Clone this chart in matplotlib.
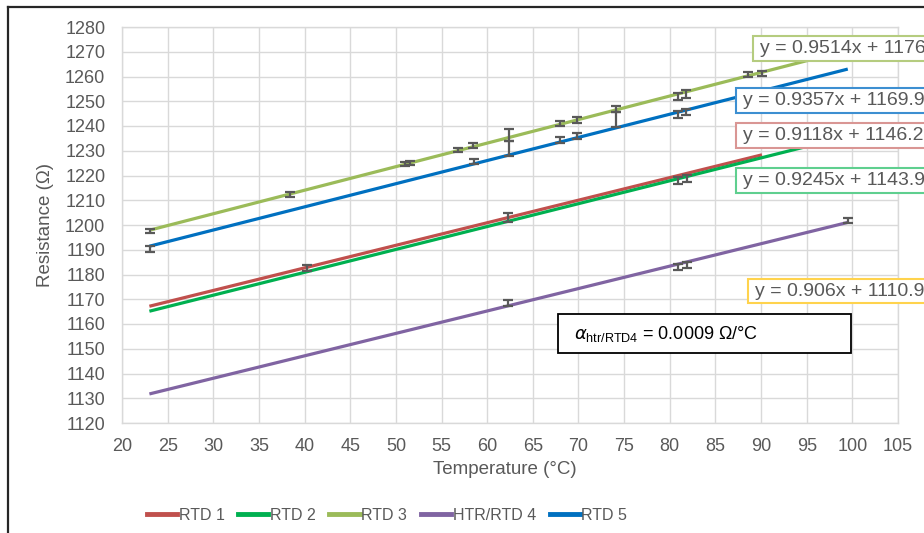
import matplotlib
matplotlib.use("Agg")
import matplotlib.pyplot as plt
from matplotlib.patches import Rectangle
from matplotlib.lines import Line2D

plt.rcParams['font.family'] = ['Liberation Sans', 'DejaVu Sans']

# ---- data ----
series_names = ["RTD 1", "RTD 2", "RTD 3", "HTR/RTD 4", "RTD 5"]
series_colors = ["#C0504D", "#00B050", "#9BBB59", "#8064A2", "#0070C0"]
slopes = [0.9118, 0.9245, 0.9514, 0.906, 0.9357]
intercepts = [1146.2, 1143.9, 1176.0, 1110.9, 1169.9]
x_start = [23, 23, 23, 23, 23]
x_end = [90.1, 99.5, 99.5, 99.5, 99.5]
eq_labels = ["y = 0.9118x + 1146.2", "y = 0.9245x + 1143.9", "y = 0.9514x + 1176",
             "y = 0.906x + 1110.9", "y = 0.9357x + 1169.9"]

# error-bar measurements (temperature, mean resistance, half-range)
rtd1_t = [40.3, 62.3]
rtd1_r = [1182.6, 1203.2]
rtd1_e = [1.3, 1.8]
rtd2_t = [80.9, 81.9]
rtd2_r = [1218.0, 1218.7]
rtd2_e = [1.5, 1.5]
rtd3_t = [23.1, 38.4, 51.0, 51.5, 56.8, 58.5, 62.4, 68.0, 69.8, 74.1, 80.9, 81.8, 88.6, 90.1]
rtd3_r = [1197.5, 1212.4, 1224.7, 1225.1, 1230.3, 1232.0, 1236.4, 1241.1, 1242.5, 1246.8, 1252.0, 1253.0, 1260.8, 1261.3]
rtd3_e = [0.8, 1.0, 0.9, 0.9, 1.0, 1.0, 2.4, 1.0, 1.3, 1.3, 1.5, 1.5, 0.9, 1.1]
rtd4_t = [62.3, 80.9, 81.9, 99.5]
rtd4_r = [1168.5, 1183.1, 1183.8, 1201.8]
rtd4_e = [1.3, 1.3, 1.3, 0.9]
rtd5_t = [23.1, 58.6, 62.4, 68.0, 69.8, 74.1, 80.9, 81.8]
rtd5_r = [1190.2, 1225.6, 1230.9, 1234.2, 1235.8, 1242.5, 1244.6, 1245.6]
rtd5_e = [1.3, 1.1, 3.0, 1.2, 1.2, 3.0, 1.5, 1.2]

x_ticks = list(range(20, 106, 5))
y_ticks = list(range(1120, 1281, 10))

W, H = 924, 533
fig = plt.figure(figsize=(W / 100, H / 100), dpi=100)
ax = fig.add_axes([122 / W, 1 - 423 / H, 776 / W, 396 / H])

ax.set_xlim(20, 105)
ax.set_ylim(1120, 1280)
ax.set_xticks(x_ticks)
ax.set_yticks(y_ticks)
ax.grid(True, color="#D9D9D9", lw=1.0)
ax.set_axisbelow(True)
for s in ax.spines.values():
    s.set_color("#D9D9D9")
    s.set_linewidth(1.0)
ax.tick_params(length=0, labelsize=13, colors="#595959")
ax.tick_params(axis='y', pad=12)
ax.tick_params(axis='x', pad=11)

# trendlines
for name, c, m, b, x0, x1 in zip(series_names, series_colors, slopes, intercepts, x_start, x_end):
    ax.plot([x0, x1], [m * x0 + b, m * x1 + b], color=c, lw=2.3, solid_capstyle='butt', label=name, zorder=3)

# error bars
for t, r, e in [(rtd1_t, rtd1_r, rtd1_e), (rtd2_t, rtd2_r, rtd2_e), (rtd3_t, rtd3_r, rtd3_e),
                (rtd4_t, rtd4_r, rtd4_e), (rtd5_t, rtd5_r, rtd5_e)]:
    ax.errorbar(t, r, yerr=e, fmt='none', ecolor="#595959", elinewidth=1.6,
                capsize=3.3, capthick=1.6, zorder=4)

# axis titles
fig.text(45.5 / W, 1 - 225 / H, "Resistance (Ω)", rotation=90, ha='center', va='center',
         fontsize=13.5, color="#595959")
fig.text(505 / W, 1 - 469 / H, "Temperature (°C)", ha='center', va='center',
         fontsize=13.5, color="#595959")

# equation label boxes (x_left px, y_top px, y_bottom px)
box_pos = {2: (753, 36, 61), 4: (736, 88, 113), 0: (736, 123, 148), 1: (736, 168, 193), 3: (748, 279, 303)}
box_edge = {0: "#D99694", 1: "#5FCF8F", 2: "#B5CC7F", 3: "#FFD34D", 4: "#3D8FD1"}
for i, (xl, yt, yb) in box_pos.items():
    fig.add_artist(Rectangle((xl / W, 1 - yb / H), (940 - xl) / W, (yb - yt) / H,
                             transform=fig.transFigure, facecolor="white",
                             edgecolor=box_edge[i], lw=1.5, zorder=5))
    fig.text((xl + 7) / W, 1 - (yt + yb) / 2 / H, eq_labels[i], ha='left', va='center',
             fontsize=14, color="#595959", zorder=6)

# alpha annotation box
fig.add_artist(Rectangle((558 / W, 1 - 353 / H), (851 - 558) / W, (353 - 314) / H,
                         transform=fig.transFigure, facecolor="white", edgecolor="black",
                         lw=1.3, zorder=5))
fig.text(574 / W, 1 - 334 / H, r"$\alpha_{\mathregular{htr/RTD4}}$ = 0.0009 Ω/°C",
         ha='left', va='center', fontsize=13, color="black", zorder=6)

# legend
handles = [Line2D([], [], color=c, lw=3.5) for c in series_colors]
fig.legend(handles, series_names, loc='center', bbox_to_anchor=(387 / W, 1 - 515 / H),
           ncol=5, frameon=False, fontsize=11.5, handlelength=1.9, handletextpad=0.1,
           columnspacing=0.85, labelcolor="#595959")

# outer chart frame (top & left visible, rest cropped)
fig.add_artist(Line2D([8 / W, 1.0], [1 - 7 / H, 1 - 7 / H], transform=fig.transFigure,
                      color="#262626", lw=1.6))
fig.add_artist(Line2D([8 / W, 8 / W], [0.0, 1 - 7 / H], transform=fig.transFigure,
                      color="#262626", lw=1.6))

fig.savefig("out.png", dpi=100)
